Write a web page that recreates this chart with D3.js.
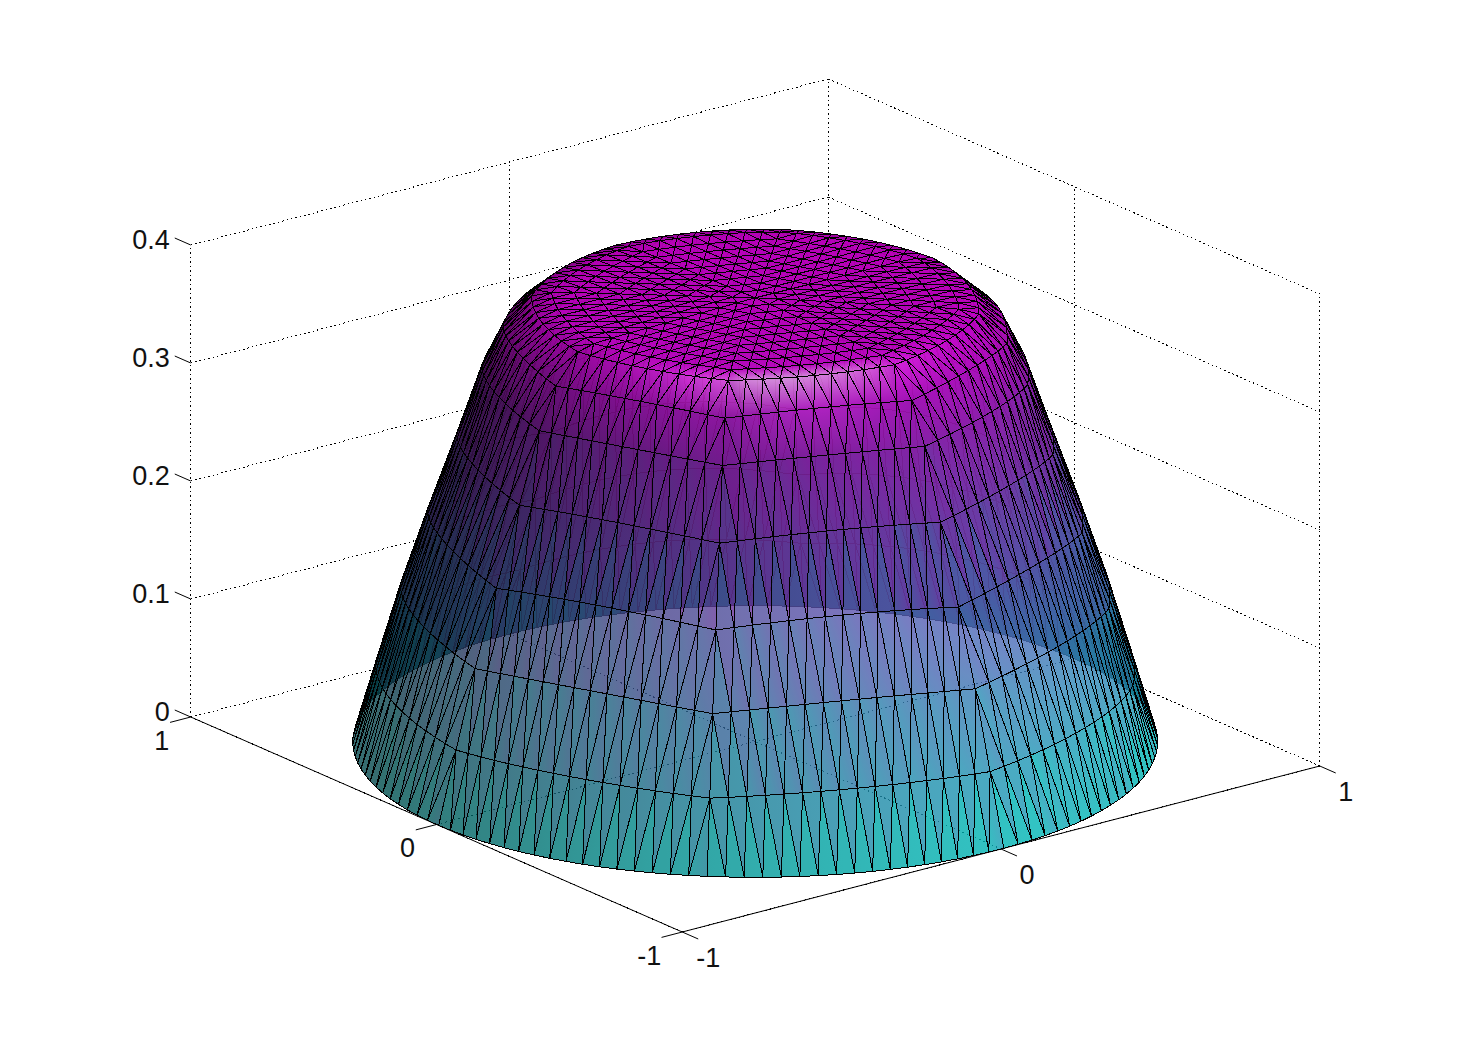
<!DOCTYPE html>
<html><head><meta charset="utf-8">
<style>html,body{margin:0;padding:0;background:#fff}svg{display:block}</style>
<script src="https://cdn.jsdelivr.net/npm/d3@7"></script>
</head><body><svg id="chart" width="1460" height="1047"></svg>
<script>
// ---- axis data
const xTicks=[-1,0,1];
const yTicks=[-1,0,1];
const zTicks=[0,0.1,0.2,0.3,0.4];
const zTickLabels=["0","0.1","0.2","0.3","0.4"];
const xTickLabels=["-1","0","1"];
const yTickLabels=["-1","0","1"];
const profileRadius=[0,0.5,0.56,0.62,0.66,0.69,0.735,0.8,0.89,1];
const profileHeight=[0.376,0.374,0.37,0.352,0.328,0.306,0.262,0.205,0.12,0];
// ---- mesh rings, index = ring number from the centre
const ringRadius=[0,0.057,0.113,0.17,0.227,0.283,0.34,0.397,0.453,0.51,0.56,0.63,0.682,0.745,0.818,0.885,0.945,1];
const ringRound=[0,0,0,0,0,0,0.1,0.2,0.35,0.55,0.7,0.8,0.85,0.85,0.85,0.88,0.94,1];
const sectors=8, cornerAngleDeg=-134.5;

// ---- projection scales
const px={x:d3.scaleLinear([-1,1],[-318.75,318.75]),y:d3.scaleLinear([-1,1],[245.75,-245.75]),cx:755.25};
const py={x:d3.scaleLinear([-1,1],[83,-83]),y:d3.scaleLinear([-1,1],[107.5,-107.5]),z:d3.scaleLinear([0,1],[0,-1180]),cy:741.5};
const P=(x,y,z)=>[px.cx+px.x(x)+px.y(y), py.cy+py.x(x)+py.y(y)+py.z(z)];
const heightOf=d3.scaleLinear(profileRadius,profileHeight);
const Zstretch=3.1;
const colorOf=d3.scaleLinear([0,profileHeight[0]],["#00ffff","#ff00ff"]);
const ka=0.3,kd=0.6,ks=0.7,shin=36;
const L=norm([0.38,0.75,0.55]);
const H=norm([0.09,0.6,0.79]);
const camR=[0.794,-0.608,0], camU=[0.208,0.272,0.94], camV=[-0.571,-0.746,0.342];
function norm(v){const m=Math.hypot(...v)||1;return v.map(a=>a/m);}
const dot=(a,b)=>a[0]*b[0]+a[1]*b[1]+a[2]*b[2];

// ---- build mesh
const verts=[], ringStart=[];
ringRadius.forEach((R,k)=>{
  ringStart[k]=verts.length;
  const n=k===0?1:sectors*k;
  for(let j=0;j<n;j++){
    const a0=cornerAngleDeg*Math.PI/180, step=2*Math.PI/sectors;
    let x=0,y=0;
    if(k>0){
      const s=Math.floor(j/k), f=(j-s*k)/k;
      const cA=a0+s*step, cB=a0+(s+1)*step;
      const hx=Math.cos(cA)*(1-f)+Math.cos(cB)*f, hy=Math.sin(cA)*(1-f)+Math.sin(cB)*f;
      const th=a0+(s+f)*step, t=ringRound[k];
      x=R*(t*Math.cos(th)+(1-t)*hx); y=R*(t*Math.sin(th)+(1-t)*hy);
    }
    const r=Math.hypot(x,y), z=heightOf(r);
    verts.push({x,y,z,p:P(x,y,z),n:[0,0,0]});
  }
});
const V=(k,j)=>k===0?0:ringStart[k]+((j%(sectors*k))+sectors*k)%(sectors*k);
const tris=[];
for(let k=1;k<ringRadius.length;k++){
  for(let s=0;s<sectors;s++){
    for(let j=0;j<k;j++){
      const a=V(k,s*k+j), b=V(k,s*k+j+1), c=V(k-1,s*(k-1)+j);
      tris.push([a,b,c]);
      if(j<k-1){tris.push([b,V(k-1,s*(k-1)+j+1),c]);}
    }
  }
}
tris.forEach(t=>{
  const [A,B,C]=t.map(i=>verts[i]);
  const u=[B.x-A.x,B.y-A.y,(B.z-A.z)*Zstretch], v=[C.x-A.x,C.y-A.y,(C.z-A.z)*Zstretch];
  let n=[u[1]*v[2]-u[2]*v[1],u[2]*v[0]-u[0]*v[2],u[0]*v[1]-u[1]*v[0]];
  const m=[(A.x+B.x+C.x)/3,(A.y+B.y+C.y)/3,(A.z+B.z+C.z)/3*Zstretch];
  if(dot(n,m)<0)n=n.map(a=>-a);
  t.front=dot(n,camV)>0;
  t.forEach(i=>{const w=verts[i].n;w[0]+=n[0];w[1]+=n[1];w[2]+=n[2];});
});
verts.forEach(v=>{
  const n=norm(v.n), c=[dot(n,camR),dot(n,camU),dot(n,camV)];
  const base=d3.rgb(colorOf(v.z));
  const diff=Math.max(0,dot(c,L)), spec=Math.pow(Math.max(0,dot(c,H)),shin);
  const f=ka+kd*diff;
  v.cF=[base.r*f+ks*255*spec,base.g*f+ks*255*spec,base.b*f+ks*255*spec];
  const nb=c.map(a=>-a), fb=0.3+0.2*Math.max(0,dot(nb,L));
  v.cB=[base.r*fb,base.g*fb,base.b*fb];
});
const css=c=>d3.rgb(c[0],c[1],c[2]).clamp().formatRgb();

const svg=d3.select("#chart");
const defs=svg.append("defs");
// ---- box, grid, axes
const gridG=svg.append("g").attr("fill","none").attr("stroke","#000").attr("stroke-width",1)
  .attr("stroke-dasharray","1.5 3").attr("shape-rendering","crispEdges");
const seg=(g,a,b)=>g.append("line").attr("x1",a[0]).attr("y1",a[1]).attr("x2",b[0]).attr("y2",b[1]);
zTicks.forEach(z=>{seg(gridG,P(-1,1,z),P(1,1,z));seg(gridG,P(1,1,z),P(1,-1,z));});
xTicks.forEach(x=>{seg(gridG,P(x,-1,0),P(x,1,0));seg(gridG,P(x,1,0),P(x,1,0.4));});
yTicks.forEach(y=>{seg(gridG,P(-1,y,0),P(1,y,0));seg(gridG,P(1,y,0),P(1,y,0.4));});
seg(gridG,P(-1,1,0),P(-1,1,0.4));
const axG=svg.append("g").attr("stroke","#000").attr("stroke-width",1).attr("fill","none");
seg(axG,P(-1,1,0),P(-1,-1,0));
seg(axG,P(-1,-1,0),P(1,-1,0));
const tl=0.065;
xTicks.forEach(x=>seg(axG,P(x,-1,0),P(x,-1-tl,0)));
yTicks.forEach(y=>seg(axG,P(-1,y,0),P(-1-tl,y,0)));
zTicks.forEach(z=>seg(axG,P(-1,1,z),P(-1,1+tl,z)));

// ---- surface layers
function layer(list,key,id,opacity){
  const G=svg.append("g").attr("opacity",opacity).attr("shape-rendering","crispEdges");
  const data=list.map((t,i)=>{
    const ps=t.map(j=>verts[j].p), cs=t.map(j=>verts[j][key]);
    const lum=cs.map(c=>c[0]+c[1]+c[2]);
    const dx1=ps[1][0]-ps[0][0],dy1=ps[1][1]-ps[0][1],dx2=ps[2][0]-ps[0][0],dy2=ps[2][1]-ps[0][1];
    const det=dx1*dy2-dx2*dy1;
    const dl1=lum[1]-lum[0],dl2=lum[2]-lum[0];
    let gx=0,gy=0;
    if(Math.abs(det)>1e-6){gx=(dl1*dy2-dl2*dy1)/det;gy=(dx1*dl2-dx2*dl1)/det;}
    const gm=Math.hypot(gx,gy);
    const d={i,d:"M"+ps.map(p=>p[0].toFixed(2)+","+p[1].toFixed(2)).join("L")+"Z"};
    if(gm<1e-4){d.fill=css([0,1,2].map(q=>(cs[0][q]+cs[1][q]+cs[2][q])/3));return d;}
    const ux=gx/gm,uy=gy/gm;
    const proj=ps.map(p=>p[0]*ux+p[1]*uy);
    const lo=proj.indexOf(d3.min(proj)),hi=proj.indexOf(d3.max(proj));
    d.grad={id:id+i,x1:ps[lo][0],y1:ps[lo][1],
      x2:ps[lo][0]+ux*(proj[hi]-proj[lo]),y2:ps[lo][1]+uy*(proj[hi]-proj[lo]),c1:css(cs[lo]),c2:css(cs[hi])};
    d.fill="url(#"+id+i+")";
    return d;
  });
  const gr=defs.selectAll("linearGradient."+id).data(data.filter(d=>d.grad)).join("linearGradient")
    .attr("class",id).attr("id",d=>d.grad.id).attr("gradientUnits","userSpaceOnUse")
    .attr("x1",d=>d.grad.x1).attr("y1",d=>d.grad.y1).attr("x2",d=>d.grad.x2).attr("y2",d=>d.grad.y2);
  gr.append("stop").attr("offset",0).attr("stop-color",d=>d.grad.c1);
  gr.append("stop").attr("offset",1).attr("stop-color",d=>d.grad.c2);
  G.selectAll("path").data(data).join("path").attr("d",d=>d.d).attr("fill",d=>d.fill);
}
function edges(list){
  const seen=new Set(), pth=d3.path();
  list.forEach(t=>{
    [[0,1],[1,2],[2,0]].forEach(([a,b])=>{
      const i=t[a],j=t[b],k=Math.min(i,j)+"_"+Math.max(i,j);
      if(seen.has(k))return;seen.add(k);
      pth.moveTo(verts[i].p[0],verts[i].p[1]);pth.lineTo(verts[j].p[0],verts[j].p[1]);
    });
  });
  return pth.toString();
}
const backT=tris.filter(t=>!t.front), frontT=tris.filter(t=>t.front);
layer(backT,"cB","b",1);
svg.append("path").attr("d",edges(backT)).attr("fill","none").attr("stroke","#000").attr("stroke-width",1).attr("shape-rendering","crispEdges");
layer(frontT,"cF","f",0.8);
svg.append("path").attr("d",edges(frontT)).attr("fill","none").attr("stroke","#000").attr("stroke-width",1).attr("shape-rendering","crispEdges");

// ---- labels
const txt=svg.append("g").attr("font-family","'Liberation Sans',Arial,sans-serif").attr("font-size",27).attr("fill","#111");
zTicks.forEach((z,i)=>{const p=P(-1,1,z);
  txt.append("text").attr("x",p[0]-21).attr("y",p[1]-6).attr("dy","0.36em").attr("text-anchor","end").text(zTickLabels[i]);});
xTicks.forEach((x,i)=>{const p=P(x,-1,0);
  txt.append("text").attr("x",p[0]+26).attr("y",p[1]+25).attr("dy","0.36em").attr("text-anchor","middle").text(xTickLabels[i]);});
yTicks.forEach((y,i)=>{const p=P(-1,y,0);
  txt.append("text").attr("x",p[0]-(y<0?33:29)).attr("y",p[1]+23).attr("dy","0.36em").attr("text-anchor","middle").text(yTickLabels[i]);});
</script></body></html>
